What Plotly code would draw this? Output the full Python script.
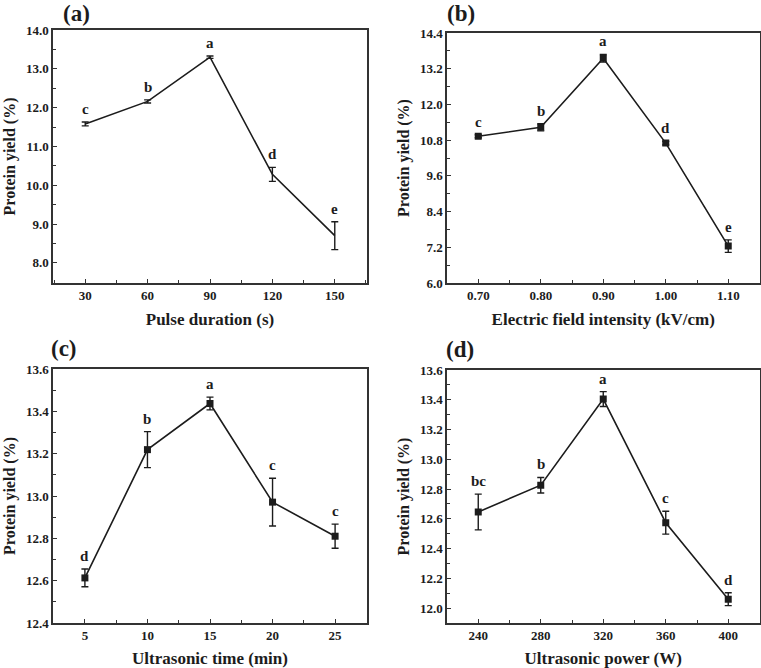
import plotly.graph_objects as go

# ---- data ----
pulse_duration = [30, 60, 90, 120, 150]
yield_a = [11.58, 12.16, 13.30, 10.28, 8.70]
err_a = [0.05, 0.04, 0.03, 0.18, 0.36]
sig_a = ["c", "b", "a", "d", "e"]

field_intensity = [0.70, 0.80, 0.90, 1.00, 1.10]
yield_b = [10.93, 11.23, 13.55, 10.70, 7.24]
err_b = [0.05, 0.12, 0.13, 0.06, 0.21]
sig_b = ["c", "b", "a", "d", "e"]

ultra_time = [5, 10, 15, 20, 25]
yield_c = [12.613, 13.219, 13.437, 12.971, 12.810]
err_c = [0.042, 0.085, 0.030, 0.113, 0.057]
sig_c = ["d", "b", "a", "c", "c"]

ultra_power = [240, 280, 320, 360, 400]
yield_d = [12.646, 12.826, 13.405, 12.574, 12.060]
err_d = [0.120, 0.052, 0.050, 0.077, 0.043]
sig_d = ["bc", "b", "a", "c", "d"]

FONT = "Liberation Serif, Times New Roman, serif"
INK = "#1c1c1c"
W, H = 761, 668

panels = [
    dict(x=pulse_duration, y=yield_a, e=err_a, s=sig_a, markers=False,
         xr=[14.5, 165.5], xt0=30, xdt=30, xmin=15, xfmt="d",
         yr=[7.48, 14.0], yt0=8.0, ydt=1.0, ymin=0.5, yfmt=".1f",
         xtitle="Pulse duration (s)", tag="(a)",
         px=(53, 367), py=(30, 283), tagpos=(76, 13)),
    dict(x=field_intensity, y=yield_b, e=err_b, s=sig_b, markers=True,
         xr=[0.65, 1.15], xt0=0.7, xdt=0.1, xmin=0.05, xfmt=".2f",
         yr=[6.0, 14.4], yt0=6.0, ydt=1.2, ymin=0.6, yfmt=".1f",
         xtitle="Electric field intensity (kV/cm)", tag="(b)",
         px=(447, 759.5), py=(33, 283), tagpos=(461, 13)),
    dict(x=ultra_time, y=yield_c, e=err_c, s=sig_c, markers=True,
         xr=[2.45, 27.55], xt0=5, xdt=5, xmin=2.5, xfmt="d",
         yr=[12.4, 13.6], yt0=12.4, ydt=0.2, ymin=0.1, yfmt=".1f",
         xtitle="Ultrasonic time (min)", tag="(c)",
         px=(53, 367), py=(369, 623), tagpos=(64, 348)),
    dict(x=ultra_power, y=yield_d, e=err_d, s=sig_d, markers=True,
         xr=[220, 420], xt0=240, xdt=40, xmin=20, xfmt="d",
         yr=[11.9, 13.6], yt0=12.0, ydt=0.2, ymin=0.1, yfmt=".1f",
         xtitle="Ultrasonic power (W)", tag="(d)",
         px=(447, 759.5), py=(370, 623), tagpos=(460, 349)),
]

fig = go.Figure()
annotations = []
layout = {}

for i, p in enumerate(panels, start=1):
    xa = "x" if i == 1 else f"x{i}"
    ya = "y" if i == 1 else f"y{i}"
    fig.add_trace(go.Scatter(
        x=p["x"], y=p["y"], xaxis=xa, yaxis=ya,
        mode="lines+markers" if p["markers"] else "lines",
        line=dict(color=INK, width=1.6),
        marker=dict(symbol="square", size=7, color=INK),
        error_y=dict(type="data", array=p["e"], visible=True,
                     color=INK, thickness=1.4, width=3.5),
        showlegend=False, hoverinfo="x+y",
    ))
    # significance letters
    for xv, yv, ev, lab in zip(p["x"], p["y"], p["e"], p["s"]):
        annotations.append(dict(
            x=xv, y=yv + ev, xref=xa, yref=ya, text=lab, showarrow=False,
            yanchor="middle", yshift=13,
            font=dict(family=FONT, size=15, color=INK, weight="bold"),
        ))
    # panel tag
    annotations.append(dict(
        x=p["tagpos"][0] / W, y=1 - p["tagpos"][1] / H, xref="paper", yref="paper",
        text=p["tag"], showarrow=False, xanchor="center", yanchor="middle",
        font=dict(family=FONT, size=23, color=INK, weight="bold"),
    ))
    axis_common = dict(
        showgrid=False, zeroline=False, showline=True, linecolor="#333333",
        linewidth=1.5, mirror=True, ticks="inside", ticklen=4, tickwidth=1.3,
        tickcolor="#333333", automargin=False,
        tickfont=dict(family=FONT, size=13, color=INK, weight="bold"),
    )
    layout["xaxis" if i == 1 else f"xaxis{i}"] = dict(
        axis_common, domain=[p["px"][0] / W, p["px"][1] / W], anchor=ya,
        range=p["xr"], tick0=p["xt0"], dtick=p["xdt"], tickformat=p["xfmt"],
        minor=dict(dtick=p["xmin"], ticks="inside", ticklen=3, tickwidth=1.2,
                   tickcolor="#333333", showgrid=False),
        title=dict(text=p["xtitle"], standoff=11,
                   font=dict(family=FONT, size=17, color=INK, weight="bold")),
    )
    layout["yaxis" if i == 1 else f"yaxis{i}"] = dict(
        axis_common, domain=[1 - p["py"][1] / H, 1 - p["py"][0] / H], anchor=xa,
        range=p["yr"], tick0=p["yt0"], dtick=p["ydt"], tickformat=p["yfmt"],
        minor=dict(dtick=p["ymin"], ticks="inside", ticklen=3, tickwidth=1.2,
                   tickcolor="#333333", showgrid=False),
        title=dict(text="Protein yield (%)", standoff=6,
                   font=dict(family=FONT, size=16, color=INK, weight="bold")),
    )

fig.update_layout(
    width=W, height=H, margin=dict(l=0, r=0, t=0, b=0),
    paper_bgcolor="white", plot_bgcolor="white",
    font=dict(family=FONT, color=INK),
    annotations=annotations, **layout,
)

fig.write_html(
    "out.html",
    config={"displayModeBar": False},
    post_script="document.body.style.margin='0';document.body.style.overflow='hidden';",
)
